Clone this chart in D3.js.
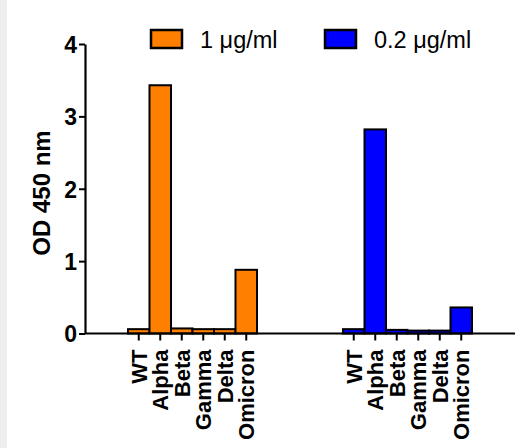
<!DOCTYPE html>
<html><head><meta charset="utf-8">
<script src="https://cdn.jsdelivr.net/npm/d3@7"></script>
<style>
body{margin:0;background:#fff;}
svg{display:block;font-family:"Liberation Sans",Arial,sans-serif;}
</style></head>
<body><svg id="c" width="529" height="448"></svg>
<script>
const categories = ["WT","Alpha","Beta","Gamma","Delta","Omicron"];
const groups = ["1 μg/ml","0.2 μg/ml"];
const colors = ["#ff8000","#0000ff"];
const values1 = [0.06,3.43,0.07,0.06,0.06,0.88];
const values02 = [0.06,2.82,0.05,0.04,0.04,0.36];
const yTicks = [0,1,2,3,4];

const series = [values1, values02];
const svg = d3.select("#c");
svg.append("rect").attr("x",0).attr("y",0).attr("width",7).attr("height",448).attr("fill","#eeeeee");

const x0 = 85, x1 = 515, yTop = 44, yBot = 333.5;
const y = d3.scaleLinear().domain([0,4]).range([yBot,yTop]);
const gx = d3.scaleBand().domain(groups).range([x0,x1]).paddingInner(0.4).paddingOuter(0.2);
const bx = d3.scaleBand().domain(categories).range([0,gx.bandwidth()]).padding(0);

// bars
groups.forEach((g,gi)=>{
  const G = svg.append("g").attr("transform",`translate(${gx(g)},0)`);
  G.selectAll("rect").data(series[gi]).join("rect")
    .attr("x",(d,i)=>bx(categories[i]))
    .attr("y",d=>y(d))
    .attr("width",bx.bandwidth())
    .attr("height",d=>yBot-y(d))
    .attr("fill",colors[gi]).attr("stroke","#000").attr("stroke-width",2);
  const ax = G.append("g").attr("transform",`translate(0,${yBot})`)
    .call(d3.axisBottom(bx).tickSize(7).tickSizeOuter(0));
  ax.attr("font-size",null).attr("font-family",null);
  ax.select(".domain").remove();
  ax.selectAll(".tick line").attr("stroke","#000").attr("stroke-width",2);
  ax.selectAll(".tick text")
    .attr("transform","rotate(-90)")
    .attr("x",-16).attr("y",0).attr("dy","0.37em")
    .attr("text-anchor","end")
    .style("font-size","22px").style("font-weight","bold").attr("fill","#000");
});

// x axis line
svg.append("line").attr("x1",x0).attr("x2",x1).attr("y1",yBot).attr("y2",yBot)
  .attr("stroke","#000").attr("stroke-width",2);

// y axis
const yax = svg.append("g").attr("transform",`translate(${x0},0)`)
  .call(d3.axisLeft(y).tickValues(yTicks).tickFormat(d3.format("d")).tickSize(6).tickSizeOuter(0));
yax.attr("font-size",null).attr("font-family",null);
yax.select(".domain").attr("stroke","#000").attr("stroke-width",2.2);
yax.selectAll(".tick line").attr("stroke","#000").attr("stroke-width",2);
yax.selectAll(".tick text").style("font-size","23px").style("font-weight","bold").attr("fill","#000")
  .attr("x",-8).attr("dy","0.36em");

svg.append("text").attr("transform","translate(50,193) rotate(-90)")
  .attr("text-anchor","middle").style("font-size","24px").style("font-weight","bold")
  .text("OD 450 nm");

// legend
const legX = [151,325];
groups.forEach((g,gi)=>{
  svg.append("rect").attr("x",legX[gi]).attr("y",30).attr("width",31).attr("height",18)
    .attr("fill",colors[gi]).attr("stroke","#000").attr("stroke-width",2.5);
  svg.append("text").attr("x",legX[gi]+49).attr("y",48).style("font-size","23.5px")
    .attr("fill","#000").text(g);
});
</script></body></html>
